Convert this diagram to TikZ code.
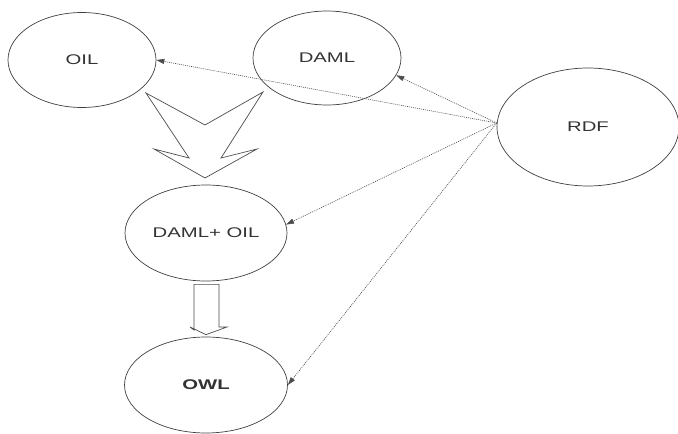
\documentclass[tikz,border=0pt]{standalone}
\usepackage{fontspec}
\setmainfont{Liberation Sans}
\usetikzlibrary{shapes.geometric,arrows.meta}
\newcommand{\widetext}[1]{\scalebox{1.45}[1]{#1}}
\tikzset{
  lang/.style={ellipse, draw=black!75, line width=0.7pt, inner sep=0pt,
    text=black!80, font=\fontsize{14}{16}\selectfont},
  link/.style={draw=black!70, line width=0.6pt, dash pattern=on 1pt off 1pt,
    -{Triangle[length=8pt,width=5pt]}},
  hollow/.style={draw=black!70, line width=0.7pt, fill=white, line join=miter}
}
\begin{document}
\begin{tikzpicture}[x=1pt,y=-1pt]
  \useasboundingbox (0,0) rectangle (678,434);

  % languages
  \node[lang, minimum width=148pt, minimum height=95pt] (oil) at (82,60) {\widetext{OIL}};
  \node[lang, minimum width=148pt, minimum height=94pt] (daml) at (327,58) {\widetext{DAML}};
  \node[lang, minimum width=182pt, minimum height=118pt] (rdf) at (588,127) {\widetext{RDF}};
  \node[lang, minimum width=162pt, minimum height=96pt] (damloil) at (206,233) {\widetext{DAML+ OIL}};
  \node[lang, minimum width=163pt, minimum height=96pt] (owl) at (206,385) {\widetext{\bfseries OWL}};

  % OIL and DAML merge into DAML+OIL
  \draw[hollow] (146,93) -- (205,125) -- (263,92) -- (221,158) -- (257,149)
    -- (205,178) -- (154,149) -- (189,158) -- cycle;

  % DAML+OIL evolves into OWL
  \draw[hollow] ([xshift=-12pt,yshift=-3pt]damloil.south) -- ([xshift=-12pt,yshift=-3pt]damloil.south |- 0,327)
    -- (190,327) -- ([yshift=2pt]owl.north) -- (227,327)
    -- ([xshift=13pt]damloil.south |- 0,327) -- ([xshift=13pt,yshift=-3pt]damloil.south) -- cycle;

  % RDF underlies all of them
  \coordinate (src) at ([yshift=4pt]rdf.west);
  \draw[link] (src) -- (oil.east);
  \draw[link] (src) -- (daml.-14);
  \draw[link] (src) -- (damloil.6);
  \draw[link] (src) -- (owl.east);
\end{tikzpicture}
\end{document}
